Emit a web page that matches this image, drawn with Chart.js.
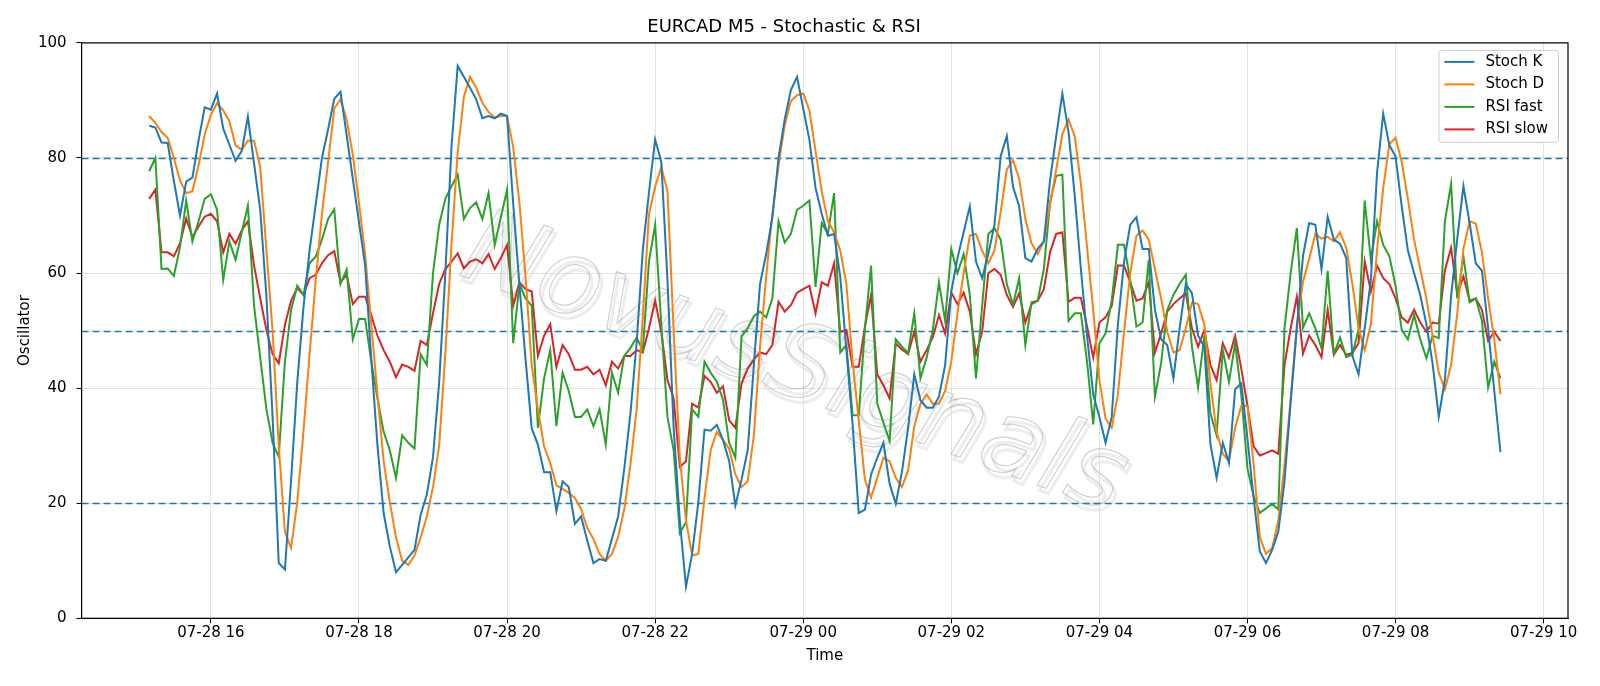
<!DOCTYPE html>
<html>
<head>
<meta charset="utf-8">
<script src="https://cdn.jsdelivr.net/npm/chart.js@4/dist/chart.umd.min.js"></script>
<style>
  html, body { margin: 0; padding: 0; background: #fff; }
  #wrap { width: 1600px; height: 686px; }
</style>
</head>
<body>
<div id="wrap"><canvas id="oscChart" width="1600" height="686"></canvas></div>
<script>
// M5 bars, first bar 07-28 15:10 (hours counted from 07-28 00:00)
var startHour = 15 + 10 / 60;
var stepHours = 5 / 60;

var stochK = [
  85.6, 85.3, 82.7, 82.6, 76, 70.0, 75.9, 76.6, 83, 88.8,
  88.4, 91.2, 85.1, 82.3, 79.5, 81.2, 87.2, 79, 71, 56,
  35, 9.6, 8.5, 24, 41, 54, 64, 72, 80, 85,
  90.3, 91.5, 84, 76.4, 68.9, 61.3, 45, 30, 18.3, 12.5,
  8, 9.3, 10.6, 11.9, 18, 21.5, 28, 41, 60, 82,
  96, 94.1, 92.2, 90.2, 86.9, 87.3, 86.9, 87.7, 87.3, 72,
  58, 45, 33, 30.2, 25.4, 25.4, 18.6, 23.8, 22.8, 16.4,
  17.7, 13.5, 9.6, 10.3, 10, 13.8, 17.7, 26, 35.6, 47.8,
  64, 74, 83.2, 79.3, 58.8, 33.1, 17, 5.5, 11.2, 20.2,
  32.8, 32.6, 33.6, 31, 27.3, 19.6, 24.1, 29.2, 44, 58.1,
  63.3, 69.7, 80, 86.7, 91.8, 94.1, 88.6, 83.2, 74.8, 70.3,
  66.5, 66.8, 59.4, 46.6, 33.7, 18.3, 18.9, 25, 27.9, 30.5,
  23.4, 19.9, 25.4, 33.1, 42.4, 37.9, 36.6, 36.6, 38.5, 44,
  56.8, 62.6, 67.1, 71.6, 62, 59.1, 63.3, 68.4, 80.3, 83.8,
  75, 71.6, 62.6, 62, 64.2, 65.5, 76.1, 83.8, 91.2, 84.5,
  73.5, 60.7, 49.1, 38.9, 35, 30.5, 35, 51.1, 62, 68.4,
  69.7, 64.2, 64.2, 53.6, 48.5, 47.5, 41.7, 50.4, 58.1, 56.5,
  49.1, 47.2, 30.2, 24.4, 30.5, 27, 39.8, 40.8, 31.2, 20.9,
  11.6, 9.6, 11.9, 15.1, 23.8, 37.6, 50.4, 63, 68.7, 68.4,
  60.7, 69.8, 65.8, 65.1, 62.6, 45.6, 42.4, 50.4, 58.8, 77.4,
  87.7, 82.2, 80.3, 71.6, 63.9, 60, 56.2, 51.1, 44.3, 35,
  41.5, 56, 66, 75.1, 68.7, 61.7, 60.4, 50.4, 39.5, 28.9
];

var stochD = [
  87.3, 86.1, 84.5, 83.5, 80, 76.1, 73.9, 74.2, 78.7, 84.1,
  87.5, 89.5, 88.3, 86.4, 82.2, 81.4, 83, 83, 78.4, 64,
  50, 30, 15, 12.2, 20.2, 32.4, 45.9, 58.8, 70.3, 79.3,
  88.6, 90.2, 86.7, 80.6, 72.3, 63.3, 51.1, 38.9, 27.3, 20.2,
  14.1, 10, 9.3, 10.9, 14.1, 17.7, 22.8, 30, 46, 65,
  81, 90.6, 94.1, 92.2, 89.6, 88, 87, 87.3, 87.3, 81.9,
  72.3, 59.4, 44, 36.3, 29.9, 27, 23.1, 22.5, 21.8, 20.9,
  19, 15.7, 13.8, 11.2, 10, 11.2, 14.1, 19, 26.7, 36.3,
  52.3, 70.3, 75, 78.4, 74.2, 50, 28, 17, 10.9, 11.2,
  20.9, 29.2, 32.4, 31, 29.5, 25, 22.8, 23.8, 31.8, 47.2,
  59.4, 70.3, 78.7, 85.7, 89.9, 90.9, 91.2, 88.3, 81.2, 74.2,
  69, 67.1, 63.9, 58.1, 44.6, 34.4, 24.1, 21, 24.4, 27.9,
  27.3, 24.4, 22.8, 25.7, 33.4, 37.3, 38.9, 37.3, 37.3, 39.5,
  44.6, 53, 60, 66.5, 66.8, 63.9, 61.7, 63.9, 70.6, 78,
  79.6, 76.4, 69.4, 65.2, 63.3, 65.5, 71.9, 78, 84.1, 86.7,
  83.8, 75.5, 64.5, 53.6, 41.4, 34.7, 33.1, 38.9, 49.8, 60,
  66.5, 67.4, 65.8, 60.7, 55.6, 49.8, 46.2, 46.6, 50.4, 54.9,
  54.6, 51.1, 40.8, 32.4, 28.6, 27.3, 33.1, 36.9, 36.9, 26.7,
  14.1, 11.2, 12.2, 17, 26.7, 38, 51, 58.5, 62.5, 66.8,
  66, 66.3, 65.5, 67.1, 64.4, 58.1, 50.4, 46.6, 51.1, 64,
  74.8, 82.4, 83.5, 79.3, 72.9, 65.8, 60.7, 55.6, 49.1, 42.7,
  39.8, 44, 53, 64.2, 69, 68.6, 63.6, 55.6, 48.5, 38.9
];

var rsiFast = [
  77.7, 80, 60.7, 60.8, 59.5, 64.5, 72.6, 65.5, 69, 72.9,
  73.7, 71, 58.8, 65.5, 62.3, 67.1, 71.7, 54.3, 45.3, 36.3,
  30.5, 28.1, 44.6, 53.6, 57.8, 56.2, 61.7, 62.9, 65.8, 69.4,
  71.1, 58.1, 60.6, 48.5, 52, 52, 44.6, 38.2, 32.4, 29.2,
  24.4, 31.8, 30.5, 29.5, 45.9, 44, 60, 68.4, 72.9, 75.1,
  77.1, 69.4, 71.3, 72.3, 69.4, 73.9, 64.9, 69.7, 74.5, 47.8,
  58.1, 55.6, 54.3, 33.1, 41.7, 46.6, 33.4, 42.7, 39.5, 35,
  35, 36.3, 33.4, 36.3, 30.2, 42.7, 39.2, 45.6, 47, 48.8,
  46.6, 62, 68.4, 51.1, 35, 29.2, 14.8, 16.7, 36.3, 35,
  44.6, 42.7, 41.1, 38, 30.5, 27.9, 49, 50.4, 52.5, 53.3,
  52.3, 55.6, 69, 65.3, 66.8, 71, 71.7, 72.6, 57.6, 68.7,
  66.8, 73.9, 46.2, 47.5, 35.3, 35.3, 50.4, 61.3, 37.3, 34,
  30.8, 48.5, 47.2, 46.1, 53, 41.7, 45.3, 50.1, 58.4, 51.7,
  64.2, 60, 63.3, 56.2, 41.7, 54.3, 66.8, 67.8, 65.8, 58.1,
  54.5, 59.1, 47.5, 54.9, 55.2, 60.7, 72.3, 76.9, 77.1, 51.7,
  53, 53, 44.6, 33.7, 47.8, 49.5, 55.2, 64.9, 64.9, 58.8,
  50.7, 51.4, 62.3, 38.5, 44.3, 53.6, 56.2, 58.1, 59.7, 47.2,
  40.1, 49.1, 35.6, 31.8, 46.6, 41.1, 47.8, 38.9, 26, 21.2,
  18.3, 19.1, 19.9, 18.9, 50.4, 60, 67.8, 50.5, 53, 50.4,
  46.9, 60.4, 45.9, 48.8, 45.4, 45.9, 50.1, 72.6, 62.3, 69,
  64.9, 62.9, 57.8, 50.1, 48.5, 52.7, 48.5, 45.2, 49.1, 48.7,
  69, 75.5, 55.6, 62.9, 54.9, 55.6, 51.7, 40.1, 44.6, 41.7
];

var rsiSlow = [
  72.9, 74.5, 63.6, 63.6, 62.9, 65.2, 69.5, 66.2, 68.1, 69.8,
  70.3, 69, 63.6, 66.8, 65.1, 67.4, 69, 61.3, 55.6, 50.1,
  45.9, 44.3, 51, 55.2, 57.4, 56.2, 59.1, 59.7, 61.7, 63.1,
  63.8, 58.4, 59.7, 54.6, 55.9, 55.9, 52.7, 49.1, 46.6, 44.6,
  41.9, 44.1, 43.7, 43, 48.2, 47.5, 53, 58.1, 60.7, 62,
  63.4, 60.8, 62, 62.4, 61.7, 63.3, 60.7, 62.6, 64.9, 54.3,
  58.4, 57.2, 56.8, 45.6, 49.1, 51.1, 43.7, 47.5, 45.9, 43.2,
  43.2, 43.7, 42.4, 43.2, 40.5, 44.6, 43.4, 45.6, 45.6, 46.6,
  46.2, 50.4, 55.2, 49.8, 41.4, 38.2, 26.3, 27.3, 37.3, 36.6,
  42.1, 41.1, 39.2, 40.3, 34.4, 33.1, 40.8, 43.4, 45, 46.2,
  45.9, 47.5, 55, 53.3, 54.4, 56.6, 57.2, 57.8, 53, 58.4,
  57.8, 61.7, 49.8, 50.1, 43.7, 43.7, 50.7, 56.2, 42.4, 40.5,
  38.2, 47.8, 46.7, 45.9, 49.8, 44.6, 46.6, 48.8, 52.7, 49.5,
  56.6, 54.6, 56.6, 53.3, 45.9, 49.8, 60, 60.7, 59.7, 56.2,
  54.1, 56.5, 51.4, 54.6, 55.2, 57.2, 63.6, 66.8, 67.1, 55,
  55.7, 55.7, 50.7, 45.3, 51.4, 52.3, 54.3, 61.3, 61.3, 58.4,
  55.2, 55.6, 58.4, 46.2, 49.5, 53.3, 54.6, 55.6, 56.5, 50.4,
  47.2, 50.1, 44, 41.4, 47.8, 45.3, 49.1, 43.4, 36.9, 29.9,
  28.3, 28.7, 29.2, 28.6, 44, 50.4, 55.9, 46, 49.1, 47.5,
  45.4, 53.6, 45.8, 47.5, 45.8, 46.1, 47.8, 62, 56.8, 61.3,
  59.1, 58.1, 55.6, 52.3, 51.4, 53.6, 51.4, 49.8, 51.4, 51.2,
  60.5, 64.4, 56.3, 59.4, 55.2, 55.6, 53.6, 48.2, 49.8, 48.2
];

var seriesNames = ["Stoch K", "Stoch D", "RSI fast", "RSI slow"];
var seriesColors = ["#1f77b4", "#ff7f0e", "#2ca02c", "#d62728"];
var levels = [20, 50, 80];
var hourTicks = [16, 18, 20, 22, 24, 26, 28, 30, 32, 34];
var yTicks = [0, 20, 40, 60, 80, 100];

var FONT = "'DejaVu Sans', sans-serif";

function toPoints(values) {
  return values.map(function (v, i) { return { x: startHour + i * stepHours, y: v }; });
}

function hourLabel(h) {
  var day = h < 24 ? "07-28" : "07-29";
  var hh = Math.round(h % 24);
  return day + " " + (hh < 10 ? "0" + hh : "" + hh);
}

// dashed overbought / oversold lines
var levelLines = {
  id: 'levelLines',
  beforeDatasetsDraw: function (chart) {
    var ctx = chart.ctx, area = chart.chartArea, y = chart.scales.y;
    ctx.save();
    ctx.strokeStyle = '#1f77b4';
    ctx.lineWidth = 1.5;
    ctx.setLineDash([7, 4]);
    levels.forEach(function (lv) {
      var py = Math.round(y.getPixelForValue(lv)) + 0.5;
      ctx.beginPath();
      ctx.moveTo(area.left, py);
      ctx.lineTo(area.right, py);
      ctx.stroke();
    });
    ctx.restore();
  }
};

// faint watermark across the plot
var watermark = {
  id: 'watermark',
  beforeDatasetsDraw: function (chart) {
    var ctx = chart.ctx, a = chart.chartArea;
    ctx.save();
    ctx.translate(a.left + (a.right - a.left) * 0.479, a.top + (a.bottom - a.top) * 0.565);
    ctx.rotate(20 * Math.PI / 180);
    ctx.font = "oblique 104px " + FONT;
    ctx.textAlign = 'center';
    ctx.textBaseline = 'middle';
    // soft shadow
    ctx.lineWidth = 3;
    ctx.strokeStyle = 'rgba(215,215,215,0.45)';
    ctx.strokeText("NovusSignals", 4, 4);
    ctx.lineWidth = 1.1;
    ctx.strokeStyle = 'rgba(165,165,165,0.55)';
    ctx.strokeText("NovusSignals", 0, 0);
    ctx.restore();
  }
};

// closed frame + legend box in upper right
var frameAndLegend = {
  id: 'frameAndLegend',
  afterDraw: function (chart) {
    var ctx = chart.ctx, a = chart.chartArea;
    ctx.save();
    ctx.strokeStyle = '#000';
    ctx.lineWidth = 1.2;
    ctx.strokeRect(a.left, a.top, a.right - a.left, a.bottom - a.top);

    ctx.font = "15px " + FONT;
    var textW = 0;
    seriesNames.forEach(function (n) { textW = Math.max(textW, ctx.measureText(n).width); });
    var padL = 6, lineLen = 30, gap = 11, padR = 10, rowH = 22.5;
    var w = padL + lineLen + gap + textW + padR;
    var h = rowH * seriesNames.length + 2;
    var x0 = a.right - 10 - w, y0 = a.top + 7;
    ctx.fillStyle = 'rgba(255,255,255,0.85)';
    ctx.strokeStyle = '#cccccc';
    ctx.lineWidth = 1;
    ctx.beginPath();
    ctx.roundRect(x0 + 0.5, y0 + 0.5, w, h, 3);
    ctx.fill();
    ctx.stroke();
    ctx.textBaseline = 'middle';
    ctx.textAlign = 'left';
    seriesNames.forEach(function (n, i) {
      var cy = y0 + 12 + i * rowH;
      ctx.strokeStyle = seriesColors[i];
      ctx.lineWidth = 2;
      ctx.beginPath();
      ctx.moveTo(x0 + padL, cy);
      ctx.lineTo(x0 + padL + lineLen, cy);
      ctx.stroke();
      ctx.fillStyle = '#000';
      ctx.fillText(n, x0 + padL + lineLen + gap, cy);
    });
    ctx.restore();
  }
};

var allSeries = [stochK, stochD, rsiFast, rsiSlow];

var ctx = document.getElementById("oscChart").getContext("2d");
var myChart = new Chart(ctx, {
  type: 'line',
  data: {
    datasets: allSeries.map(function (vals, i) {
      return {
        label: seriesNames[i],
        data: toPoints(vals),
        borderColor: seriesColors[i],
        backgroundColor: seriesColors[i],
        borderWidth: 2,
        pointRadius: 0,
        tension: 0,
        fill: false
      };
    })
  },
  options: {
    responsive: false,
    animation: false,
    layout: {
      padding: { left: 0, right: 32, top: 0, bottom: 0 }
    },
    plugins: {
      legend: { display: false },
      tooltip: { enabled: false },
      title: {
        display: true,
        text: 'EURCAD M5 - Stochastic & RSI',
        color: '#000',
        font: { family: FONT, size: 18, weight: 'normal' },
        padding: { top: 17, bottom: 4.3 }
      }
    },
    scales: {
      x: {
        type: 'linear',
        min: 14.254,
        max: 34.329,
        afterBuildTicks: function (scale) {
          scale.ticks = hourTicks.map(function (v) { return { value: v }; });
        },
        afterFit: function (scale) { scale.height = 67.7; },
        ticks: {
          color: '#000',
          font: { family: FONT, size: 15 },
          padding: 1,
          maxRotation: 0,
          autoSkip: false,
          callback: function (v) { return hourLabel(v); }
        },
        grid: {
          color: 'rgba(176,176,176,0.35)',
          tickColor: '#000',
          tickLength: 5,
          lineWidth: 1
        },
        border: { display: true, color: '#000', width: 1 },
        title: {
          display: true,
          text: 'Time',
          color: '#000',
          font: { family: FONT, size: 15 },
          padding: { top: 0, bottom: 21 }
        }
      },
      y: {
        min: 0,
        max: 100,
        afterBuildTicks: function (scale) {
          scale.ticks = yTicks.map(function (v) { return { value: v }; });
        },
        afterFit: function (scale) { scale.width = 81.6; },
        ticks: {
          color: '#000',
          font: { family: FONT, size: 15 },
          padding: 10
        },
        grid: {
          color: 'rgba(176,176,176,0.35)',
          tickColor: '#000',
          tickLength: 5,
          lineWidth: 1
        },
        border: { display: true, color: '#000', width: 1 },
        title: {
          display: true,
          text: 'Oscillator',
          color: '#000',
          font: { family: FONT, size: 15 },
          padding: { top: 16, bottom: 0 }
        }
      }
    }
  },
  plugins: [watermark, levelLines, frameAndLegend]
});
</script>
</body>
</html>
